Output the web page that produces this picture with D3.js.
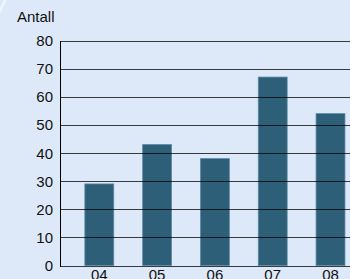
<!DOCTYPE html>
<html>
<head>
<meta charset="utf-8">
<script src="https://cdn.jsdelivr.net/npm/d3@7"></script>
<style>
  body { margin: 0; background: #dde9f8; }
  svg { display: block; font-family: "Liberation Sans", Arial, sans-serif; }
</style>
</head>
<body>
<div id="chart"></div>
<script>
var years = ["04", "05", "06", "07", "08"];
var counts = [29, 43, 38, 67, 54];
var yTicks = [0, 10, 20, 30, 40, 50, 60, 70, 80];
var yTitle = "Antall";

var width = 350, height = 279;
var margin = { top: 40.5, left: 60, bottom: 14 };

var svg = d3.select("#chart").append("svg")
   .attr("width", width)
   .attr("height", height);

// background with light arc in the corner
svg.append("rect")
   .attr("width", width)
   .attr("height", height)
   .attr("fill", "#dde9f8");
svg.append("circle")
   .attr("cx", 405)
   .attr("cy", 207)
   .attr("r", 450)
   .attr("fill", "none")
   .attr("stroke", "#f0f6fd")
   .attr("stroke-width", 2.5);

var yScale = d3.scaleLinear()
   .domain([0, 80])
   .range([265.5, margin.top]);

var step = 57.8;
var xScale = d3.scaleBand()
   .domain(years)
   .range([margin.left, margin.left + step * (5 - 0.5 + 2 * 0.43)])
   .paddingInner(0.5)
   .paddingOuter(0.43);

// bars
svg.append("g")
   .selectAll("rect")
   .data(counts)
   .enter()
   .append("rect")
   .attr("x", function (d, i) { return xScale(years[i]); })
   .attr("y", function (d) { return yScale(d); })
   .attr("width", xScale.bandwidth())
   .attr("height", function (d) { return yScale(0) - yScale(d); })
   .attr("fill", "#2d5f78")
   .attr("stroke", "#5d8aa0")
   .attr("stroke-width", 0.8);

// gridlines on top
svg.append("g")
   .selectAll("line")
   .data(yTicks)
   .enter()
   .append("line")
   .attr("x1", margin.left)
   .attr("x2", width)
   .attr("y1", function (d) { return Math.round(yScale(d)) + 0.5; })
   .attr("y2", function (d) { return Math.round(yScale(d)) + 0.5; })
   .attr("stroke", "#000")
   .attr("stroke-opacity", 0.75);

// y axis line
svg.append("line")
   .attr("x1", margin.left + 0.5)
   .attr("x2", margin.left + 0.5)
   .attr("y1", Math.round(yScale(80)))
   .attr("y2", Math.round(yScale(0)) + 1)
   .attr("stroke", "#000");

// y tick labels
svg.append("g")
   .selectAll("text")
   .data(yTicks)
   .enter()
   .append("text")
   .attr("x", 53)
   .attr("y", function (d) { return yScale(d) + 5.5; })
   .attr("text-anchor", "end")
   .attr("font-size", 15)
   .attr("fill", "#111")
   .text(function (d) { return d; });

// x tick labels
svg.append("g")
   .selectAll("text")
   .data(years)
   .enter()
   .append("text")
   .attr("x", function (d) { return xScale(d) + xScale.bandwidth() / 2; })
   .attr("y", 280)
   .attr("text-anchor", "middle")
   .attr("font-size", 15)
   .attr("fill", "#111")
   .text(function (d) { return d; });

svg.append("text")
   .attr("x", 17)
   .attr("y", 21.7)
   .attr("font-size", 15)
   .attr("fill", "#111")
   .text(yTitle);
</script>
</body>
</html>
